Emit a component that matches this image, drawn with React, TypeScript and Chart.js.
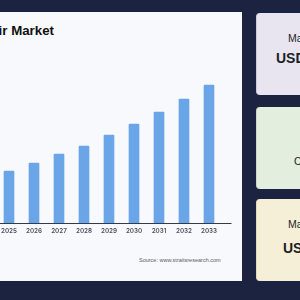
import React, { useEffect, useRef } from "react";
import { Chart, registerables } from "chart.js";

Chart.register(...registerables);

const years = ["2025", "2026", "2027", "2028", "2029", "2030", "2031", "2032", "2033"];
const marketSize = [5.2, 6.0, 6.9, 7.7, 8.8, 9.9, 11.1, 12.4, 13.8];
const chartTitle = "Wheelchair Market";
const sourceText = "Source: www.straitsresearch.com";

const baselinePlugin = {
  id: "baseline",
  afterDraw(chart: any) {
    const { ctx, chartArea } = chart;
    ctx.save();
    ctx.strokeStyle = "#333a48";
    ctx.lineWidth = 1;
    ctx.beginPath();
    ctx.moveTo(chartArea.left, Math.round(chartArea.bottom) + 0.5);
    ctx.lineTo(chartArea.right + 10, Math.round(chartArea.bottom) + 0.5);
    ctx.stroke();
    ctx.restore();
  },
};

const SANS = "'Liberation Sans', Arial, sans-serif";

export default function App() {
  const ref = useRef<HTMLCanvasElement>(null);

  useEffect(() => {
    if (!ref.current) return;
    const chart = new Chart(ref.current, {
      type: "bar",
      data: {
        labels: years,
        datasets: [
          {
            data: marketSize,
            backgroundColor: "#6aa5e8",
            barThickness: 10,
            borderRadius: 1,
          },
        ],
      },
      options: {
        animation: false,
        responsive: false,
        maintainAspectRatio: false,
        layout: { padding: { left: 16.5, right: 18.5, top: 8, bottom: 0 } },
        plugins: { legend: { display: false }, tooltip: { enabled: false } },
        scales: {
          x: {
            grid: { display: false, drawTicks: false },
            border: { display: false },
            ticks: {
              padding: 4,
              color: "#4a505b",
              font: { family: "Inter", size: 6.3, weight: "600" },
              maxRotation: 0,
              autoSkip: false,
            },
            afterFit(scale: any) {
              scale.height = 22;
            },
          },
          y: {
            display: false,
            min: 0,
            max: 16,
          },
        },
      },
      plugins: [baselinePlugin],
    });
    return () => chart.destroy();
  }, []);

  const card = (top: number, bg: string, border: string): React.CSSProperties => ({
    position: "absolute",
    left: 256,
    top,
    width: 120,
    height: 82,
    background: bg,
    borderRadius: 4,
    borderLeft: `1px solid ${border}`,
    boxSizing: "border-box",
  });

  const txt = (left: number, top: number, size: number, bold: boolean): React.CSSProperties => ({
    position: "absolute",
    left,
    top,
    fontSize: size,
    fontWeight: bold ? 700 : 400,
    whiteSpace: "nowrap",
    color: "#1d1f26",
    fontFamily: SANS,
    lineHeight: 1,
  });

  return (
    <div
      style={{
        position: "fixed",
        left: 0,
        top: 0,
        width: 300,
        height: 300,
        background: "#1b2341",
        overflow: "hidden",
        fontFamily: SANS,
      }}
    >
      <div
        style={{
          position: "absolute",
          left: -60,
          top: 12,
          width: 302,
          height: 269,
          background: "#f8f9fd",
        }}
      />
      <div
        style={{
          position: "absolute",
          right: 246,
          top: 24,
          fontSize: 13.3,
          fontWeight: 700,
          whiteSpace: "nowrap",
          color: "#111",
          fontFamily: SANS,
          lineHeight: 1,
          textAlign: "right",
        }}
      >
        {chartTitle}
      </div>
      <canvas
        ref={ref}
        width={260}
        height={190}
        style={{ position: "absolute", left: -20, top: 55, width: 260, height: 190 }}
      />
      <div style={{ ...txt(139, 258, 5.5, false), color: "#555b66" }}>{sourceText}</div>

      <div style={card(13, "#e8e5f1", "#cfc9de")} />
      <div style={card(107, "#e3eedf", "#c9d9c4")} />
      <div style={card(199, "#f6efd8", "#e2d9bd")} />

      <div style={txt(288, 33, 10.5, false)}>Market Size in 2024</div>
      <div style={txt(276, 51, 14, true)}>USD 1.2 Billion</div>
      <div style={txt(294, 156, 10.5, false)}>CAGR</div>
      <div style={txt(288, 219, 10.5, false)}>Market Size in 2033</div>
      <div style={txt(283, 241, 14, true)}>USD 3.2 Billion</div>
    </div>
  );
}
